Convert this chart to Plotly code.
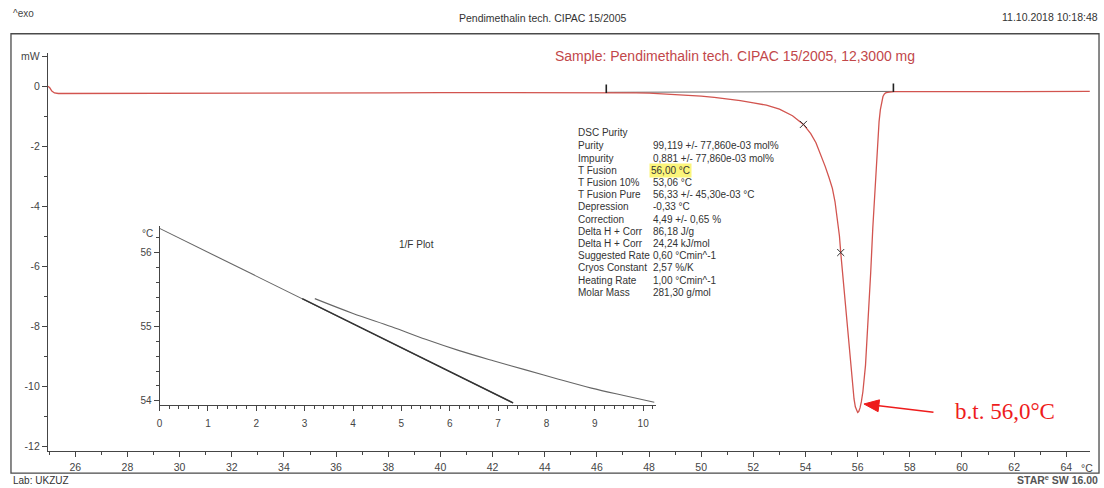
import plotly.graph_objects as go

W, H = 1104, 488

# DSC heat-flow curve (temperature in °C, heat flow in mW)
temp = [24.95, 25.02, 25.1, 25.2, 25.35, 26, 28, 30, 32, 34, 36, 38, 40, 42, 44, 46,
        46.4, 47, 47.5, 48, 48.5, 49, 49.5, 50, 50.5, 51, 51.5, 52, 52.5, 53.0, 53.5,
        53.92, 54.2, 54.4, 54.59, 54.75, 54.9, 55.03, 55.13, 55.22, 55.3, 55.35, 55.43,
        55.52, 55.61, 55.7, 55.8, 55.86, 55.91, 55.96, 56.0, 56.04, 56.09, 56.14, 56.2,
        56.3, 56.39, 56.5, 56.58, 56.68, 56.75, 56.82, 56.87, 56.92, 56.97, 57.02, 57.07,
        57.15, 57.25, 57.4, 58, 60, 62, 64, 64.9]
heat_flow = [0.0, -0.05, -0.16, -0.22, -0.24, -0.24, -0.24, -0.24, -0.23, -0.23, -0.22,
             -0.22, -0.21, -0.21, -0.2, -0.2, -0.2, -0.21, -0.22, -0.23, -0.25, -0.27,
             -0.3, -0.33, -0.37, -0.42, -0.48, -0.55, -0.63, -0.76, -0.98, -1.27, -1.58,
             -1.88, -2.28, -2.66, -3.04, -3.4, -3.84, -4.36, -4.98, -5.54, -6.3, -7.15,
             -8.02, -8.95, -10.01, -10.42, -10.68, -10.83, -10.87, -10.84, -10.72, -10.52,
             -10.18, -9.3, -8.02, -6.2, -4.72, -3.1, -1.95, -1.18, -0.78, -0.5, -0.34,
             -0.26, -0.22, -0.2, -0.19, -0.18, -0.18, -0.17, -0.17, -0.17, -0.17]

# partial-area markers on the peak
cross_t = [53.92, 55.35]
cross_hf = [-1.27, -5.54]

# integration limits and baseline
limit_t = [46.36, 57.37]
limit_hf = [-0.2, -0.17]

# 1/F plot
fit_x = [0.0, 7.31]
fit_y = [56.33, 53.97]
corr_x = [2.95, 7.31]
corr_y = [55.38, 53.97]
raw_x = [3.21, 4.0, 4.8, 5.5, 6.18, 6.9, 7.55, 8.25, 8.93, 9.6, 10.23]
raw_y = [55.38, 55.18, 55.0, 54.83, 54.68, 54.54, 54.42, 54.29, 54.17, 54.07, 53.98]

# evaluation results
result_labels = ["Purity", "Impurity", "T Fusion", "T Fusion 10%", "T Fusion Pure",
                 "Depression", "Correction", "Delta H + Corr", "Delta H + Corr",
                 "Suggested Rate", "Cryos Constant", "Heating Rate", "Molar Mass"]
result_values = ["99,119 +/- 77,860e-03 mol%", "0,881 +/- 77,860e-03 mol%", "56,00 °C",
                 "53,06 °C", "56,33 +/- 45,30e-03 °C", "-0,33 °C", "4,49 +/- 0,65 %",
                 "86,18 J/g", "24,24 kJ/mol", "0,60 °Cmin^-1", "2,57 %/K",
                 "1,00 °Cmin^-1", "281,30 g/mol"]

x_ticks = list(range(26, 65, 2))
x_minor = list(range(25, 65, 2))
y_ticks = [-12, -10, -8, -6, -4, -2, 0, 1]
y_ticktext = ["-12", "-10", "-8", "-6", "-4", "-2", "0", "mW"]
y_minor = [-11, -9, -7, -5, -3, -1]

inset_x_ticks = list(range(0, 11))
inset_y_ticks = [54, 55, 56]

RED = "#d2544f"
AX = "#454545"
ARROW = "#ee1c1c"
FONT = "Liberation Sans, Arial, sans-serif"


def px(x):
    return x / W


def py(y):
    return 1 - y / H


fig = go.Figure()

# baseline between the integration limits
fig.add_trace(go.Scatter(x=limit_t, y=limit_hf, mode="lines",
                         line=dict(color="#6a6a6a", width=1), showlegend=False))
fig.add_trace(go.Scatter(x=temp, y=heat_flow, mode="lines",
                         line=dict(color=RED, width=1.3), showlegend=False))
fig.add_trace(go.Scatter(x=cross_t, y=cross_hf, mode="markers",
                         marker=dict(symbol="x-thin", size=7, line=dict(color="#333", width=1)),
                         showlegend=False))
fig.add_trace(go.Scatter(x=limit_t, y=[v + 0.12 for v in limit_hf], mode="markers",
                         marker=dict(symbol="line-ns", size=6, line=dict(color="#222", width=1.6)),
                         showlegend=False))

# 1/F plot traces
fig.add_trace(go.Scatter(x=fit_x, y=fit_y, mode="lines", xaxis="x2", yaxis="y2",
                         line=dict(color="#666", width=1.1), showlegend=False))
fig.add_trace(go.Scatter(x=corr_x, y=corr_y, mode="lines", xaxis="x2", yaxis="y2",
                         line=dict(color="#333", width=1.6), showlegend=False))
fig.add_trace(go.Scatter(x=raw_x, y=raw_y, mode="lines", xaxis="x2", yaxis="y2",
                         line=dict(color="#666", width=1.1, shape="spline"), showlegend=False))

x0_main, x1_main = 45, 1090
y_top, y_bot = 50, 452

fig.update_layout(
    width=W, height=H, autosize=False,
    margin=dict(l=0, r=0, t=0, b=0),
    paper_bgcolor="white", plot_bgcolor="rgba(0,0,0,0)",
    font=dict(family=FONT, size=10.5, color=AX),
    xaxis=dict(domain=[px(x0_main), px(x1_main)], range=[24.948, 64.91],
               showline=True, linecolor=AX, linewidth=1, ticks="outside", ticklen=5,
               tickcolor=AX, tickvals=x_ticks, showgrid=False, zeroline=False,
               tickfont=dict(size=10.5, color=AX), ticklabelstandoff=1,
               minor=dict(tickvals=x_minor, ticks="outside", ticklen=3, tickcolor=AX)),
    yaxis=dict(domain=[py(y_bot), py(y_top)], range=[-12.165, 1.124],
               showline=True, linecolor=AX, linewidth=1, ticks="outside", ticklen=5,
               tickcolor=AX, tickvals=y_ticks, ticktext=y_ticktext, showgrid=False,
               zeroline=False, tickfont=dict(size=10.5, color=AX),
               minor=dict(tickvals=y_minor, ticks="outside", ticklen=3, tickcolor=AX)),
    xaxis2=dict(domain=[px(157), px(655)], range=[0, 10.27], anchor="y2",
                showline=True, linecolor=AX, linewidth=1, ticks="outside", ticklen=5,
                tickcolor=AX, tickvals=inset_x_ticks, showgrid=False, zeroline=False,
                tickfont=dict(size=10, color=AX), ticklabelstandoff=4,
                minor=dict(dtick=0.2, tick0=0, ticks="outside", ticklen=3, tickcolor=AX)),
    yaxis2=dict(domain=[py(405), py(225)], range=[53.946, 56.36], anchor="x2",
                showline=True, linecolor=AX, linewidth=1, ticks="outside", ticklen=5,
                tickcolor=AX, tickvals=inset_y_ticks, showgrid=False, zeroline=False,
                tickfont=dict(size=10, color=AX),
                minor=dict(dtick=0.2, tick0=54, ticks="outside", ticklen=3, tickcolor=AX)),
)

# outer frame
fig.add_shape(type="rect", xref="paper", yref="paper",
              x0=px(8), x1=px(1099), y0=py(474), y1=py(31),
              line=dict(color="#4a4a4a", width=1.3))

# red pointer towards the peak
tail = (933.0, 412.7)
tip = (863.3, 404.3)
dx, dy = tip[0] - tail[0], tip[1] - tail[1]
norm = (dx * dx + dy * dy) ** 0.5
ux, uy = dx / norm, dy / norm
head_len, head_half = 15.0, 6.0
bx, by = tip[0] - ux * head_len, tip[1] - uy * head_len
nx, ny = -uy, ux
fig.add_shape(type="line", xref="paper", yref="paper",
              x0=px(tail[0]), y0=py(tail[1]), x1=px(bx + ux * 2), y1=py(by + uy * 2),
              line=dict(color=ARROW, width=1.6))
head_pts = [(tip[0], tip[1]), (bx + nx * head_half, by + ny * head_half),
            (bx - nx * head_half, by - ny * head_half)]
path = "M {} {} L {} {} L {} {} Z".format(*[v for p in head_pts for v in (px(p[0]), py(p[1]))])
fig.add_shape(type="path", xref="paper", yref="paper", path=path,
              fillcolor=ARROW, line=dict(color=ARROW, width=1))

ann = []


def text(x, y, s, size=10.5, color=AX, anchor="left", family=FONT, **kw):
    ann.append(dict(x=px(x), y=py(y), xref="paper", yref="paper", text=s,
                    showarrow=False, xanchor=anchor, yanchor="middle",
                    font=dict(size=size, color=color, family=family), **kw))


text(8, 11, "^exo", size=10)
text(541, 15, "Pendimethalin tech. CIPAC 15/2005", size=10.5, color="#333", anchor="center")
text(1100, 14, "11.10.2018 10:18:48", size=10.5, color="#333", anchor="right")
text(551, 53, "Sample: Pendimethalin tech. CIPAC 15/2005, 12,3000 mg", size=14,
     color="#c2474a")
text(1087, 469, "°C", size=10.5, anchor="center")
text(145, 232, "°C", size=10, anchor="center")
text(415, 243, "1/F Plot", size=10, color="#333", anchor="center")
text(8, 481, "Lab: UKZUZ", size=10, color="#333")
text(1100, 480, "<b>STAR<sup>e</sup> SW 16.00</b>", size=10.5, color="#555", anchor="right")

# results table
text(575, 131, "DSC Purity", size=10, color="#333")
row0, step = 144, 12.3
for i, (lab, val) in enumerate(zip(result_labels, result_values)):
    yy = row0 + i * step
    text(575, yy, lab, size=10, color="#333")
    if lab == "T Fusion":
        text(648, yy, val, size=10, color="#333", bgcolor="#fbf57a", borderpad=1)
    else:
        text(650, yy, val, size=10, color="#333")

text(953, 412, "b.t. 56,0°C", size=23, color=ARROW,
     family="Liberation Serif, Times New Roman, serif")

fig.update_layout(annotations=ann)

fig.write_html("out.html")
